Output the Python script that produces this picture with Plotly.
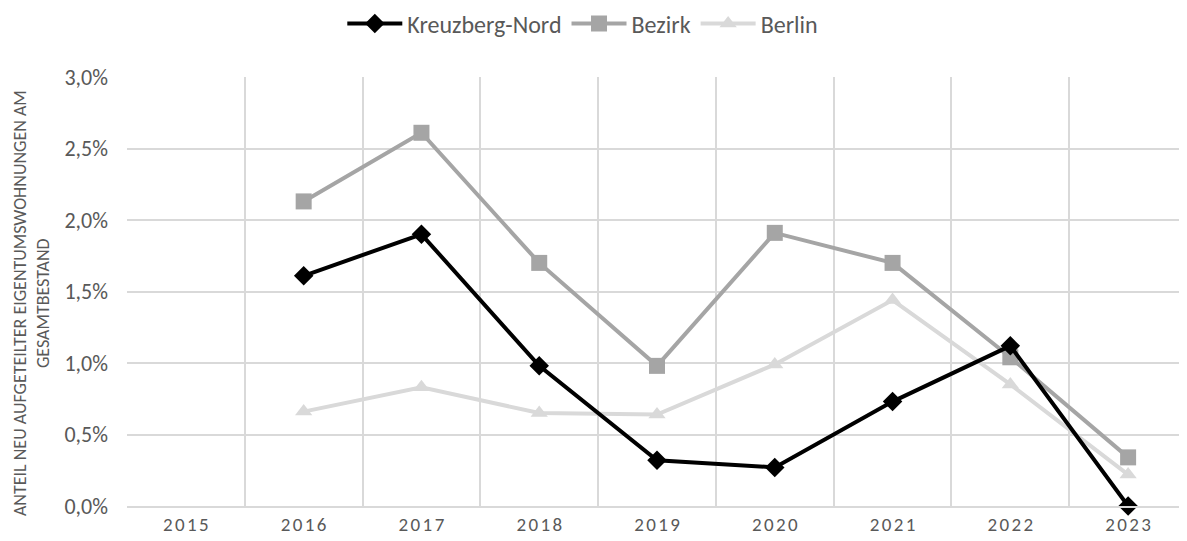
import plotly.graph_objects as go

years = ["2015", "2016", "2017", "2018", "2019", "2020", "2021", "2022", "2023"]
year_labels = ["2\u200a0\u200a1\u200a5", "2\u200a0\u200a1\u200a6", "2\u200a0\u200a1\u200a7",
               "2\u200a0\u200a1\u200a8", "2\u200a0\u200a1\u200a9", "2\u200a0\u200a2\u200a0",
               "2\u200a0\u200a2\u200a1", "2\u200a0\u200a2\u200a2", "2\u200a0\u200a2\u200a3"]
kreuzberg_nord = [None, 1.61, 1.90, 0.98, 0.32, 0.27, 0.73, 1.12, 0.00]
bezirk = [None, 2.13, 2.61, 1.70, 0.98, 1.91, 1.70, 1.04, 0.34]
berlin = [None, 0.66, 0.83, 0.65, 0.64, 0.99, 1.44, 0.85, 0.22]

y_title = "ANTEIL NEU AUFGETEILTER EIGENTUMSWOHNUNGEN AM<br>GESAMTBESTAND"
FONT = "Carlito, Calibri, Lato, sans-serif"
TXT = "#595959"

fig = go.Figure()
fig.add_trace(go.Scatter(x=years, y=berlin, name="Berlin", mode="lines+markers",
                         cliponaxis=False,
                         line=dict(color="#d9d9d9", width=4),
                         marker=dict(symbol="triangle-up", size=15, color="#d9d9d9")))
fig.add_trace(go.Scatter(x=years, y=bezirk, name="Bezirk", mode="lines+markers",
                         cliponaxis=False,
                         line=dict(color="#a5a5a5", width=4),
                         marker=dict(symbol="square", size=16, color="#a5a5a5")))
fig.add_trace(go.Scatter(x=years, y=kreuzberg_nord, name="Kreuzberg-Nord", mode="lines+markers",
                         cliponaxis=False,
                         line=dict(color="#000000", width=4),
                         marker=dict(symbol="diamond", size=15, color="#000000")))

fig.update_layout(
    width=1179, height=533,
    margin=dict(l=119, r=0, t=69, b=35, autoexpand=False),
    paper_bgcolor="white", plot_bgcolor="white",
    separators=",.",
    font=dict(family=FONT, color=TXT),
    showlegend=True,
    legend=dict(orientation="h", x=0.430, xanchor="center",
                y=1.1235, yanchor="middle", itemwidth=55,
                traceorder="reversed", font=dict(size=24, color=TXT, family=FONT)),
    xaxis=dict(type="category", range=[-0.5, 8.5], tickson="boundaries",
               tickvals=years, ticktext=year_labels, tickangle=0,
               showgrid=True, gridcolor="#d9d9d9", gridwidth=1.5,
               ticks="", showline=True, linecolor="#d9d9d9", linewidth=1.5,
               tickfont=dict(size=19, color=TXT, family=FONT), zeroline=False),
    yaxis=dict(range=[0, 3.0], dtick=0.5, tickformat=".1f", ticksuffix="%",
               showgrid=True, gridcolor="#d9d9d9", gridwidth=1.5, zeroline=False,
               ticks="", ticklen=0, ticklabelstandoff=18,
               tickfont=dict(size=22, color=TXT, family=FONT)),
    annotations=[dict(text=y_title, textangle=-90, xref="paper", yref="paper",
                      x=-0.0906, y=0.473, xanchor="center", yanchor="middle",
                      showarrow=False, font=dict(size=18, color=TXT, family=FONT))],
)

fig.write_html("out.html")
